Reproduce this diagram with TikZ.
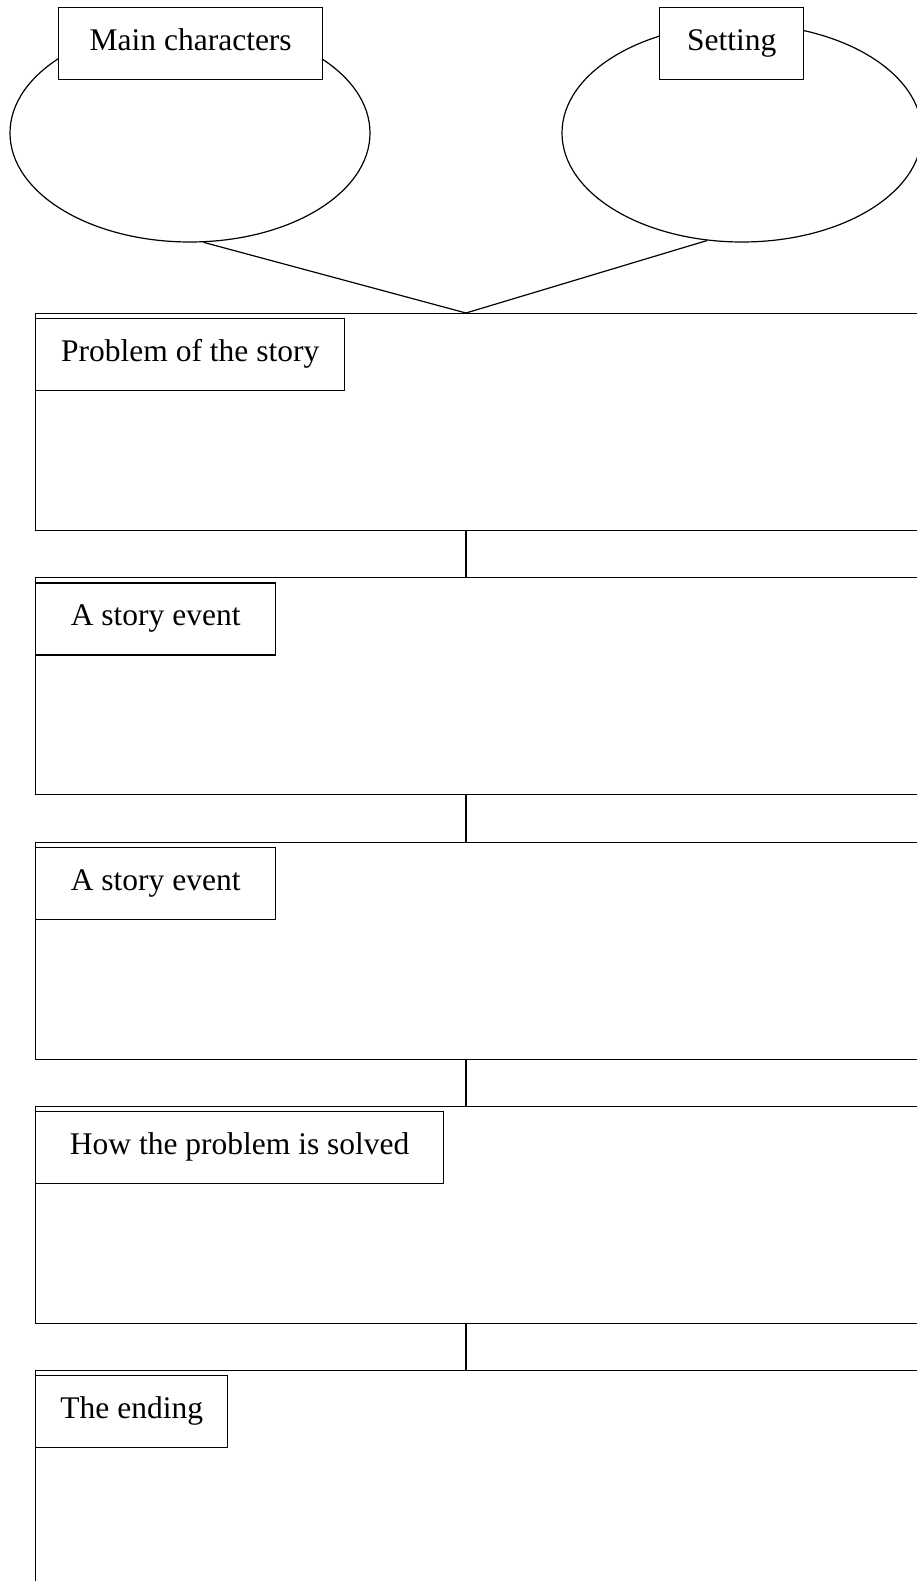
\documentclass[tikz,border=0pt]{standalone}
\usepackage{fontspec}
\setmainfont{Liberation Serif}
\usetikzlibrary{positioning,shapes.geometric,calc}

\begin{document}
\begin{tikzpicture}[
  x=1pt,y=-1pt,
  font=\fontsize{31.5}{36}\selectfont,
  line width=1.2pt,
  bubble/.style={ellipse,draw,minimum width=360pt,minimum height=218pt,inner sep=0pt},
  panel/.style={rectangle,draw,anchor=north west,minimum width=930pt,minimum height=217pt},
  tag/.style={rectangle,draw,fill=white,anchor=north west,minimum height=72pt,
              inner sep=0pt,text height=21pt,text depth=7pt,line width=1.4pt},
  link/.style={draw,line width=1.2pt}
]
\clip (0,0) rectangle (917,1581);

% the two bubbles on top
\node[bubble] (chars) at (190,133) {};
\node[bubble] (place) at (742,133) {};
\node[tag,minimum width=264pt] (charsT) at (58,7)  {Main characters};
\node[tag,minimum width=144pt] (placeT) at (659,7) {Setting};

% the story panels
\node[panel] (prob) at (35,313)     {};
\node[panel] (ev1)  at (35,577.25)  {};
\node[panel] (ev2)  at (35,841.5)   {};
\node[panel] (solv) at (35,1105.75) {};
\node[panel,minimum height=300pt] (end) at (35,1370) {};

\node[tag,minimum width=309pt] (probT) at ([yshift=-5pt]prob.north west) {Problem of the story};
\node[tag,minimum width=240pt] (ev1T)  at ([yshift=-5pt]ev1.north west)  {A story event};
\node[tag,minimum width=240pt] (ev2T)  at ([yshift=-5pt]ev2.north west)  {A story event};
\node[tag,minimum width=408pt] (solvT) at ([yshift=-5pt]solv.north west) {How the problem is solved};
\node[tag,minimum width=192pt] (endT)  at ([yshift=-5pt]end.north west)  {The ending};

\coordinate (spine) at (466,0);

\draw[link] (chars.-83)  -- (prob.north -| spine);
\draw[link] (place.-108) -- (prob.north -| spine);
\draw[link] (prob.south -| spine) -- (ev1.north -| spine);
\draw[link] (ev1.south -| spine)  -- (ev2.north -| spine);
\draw[link] (ev2.south -| spine)  -- (solv.north -| spine);
\draw[link] (solv.south -| spine) -- (end.north -| spine);
\end{tikzpicture}
\end{document}
